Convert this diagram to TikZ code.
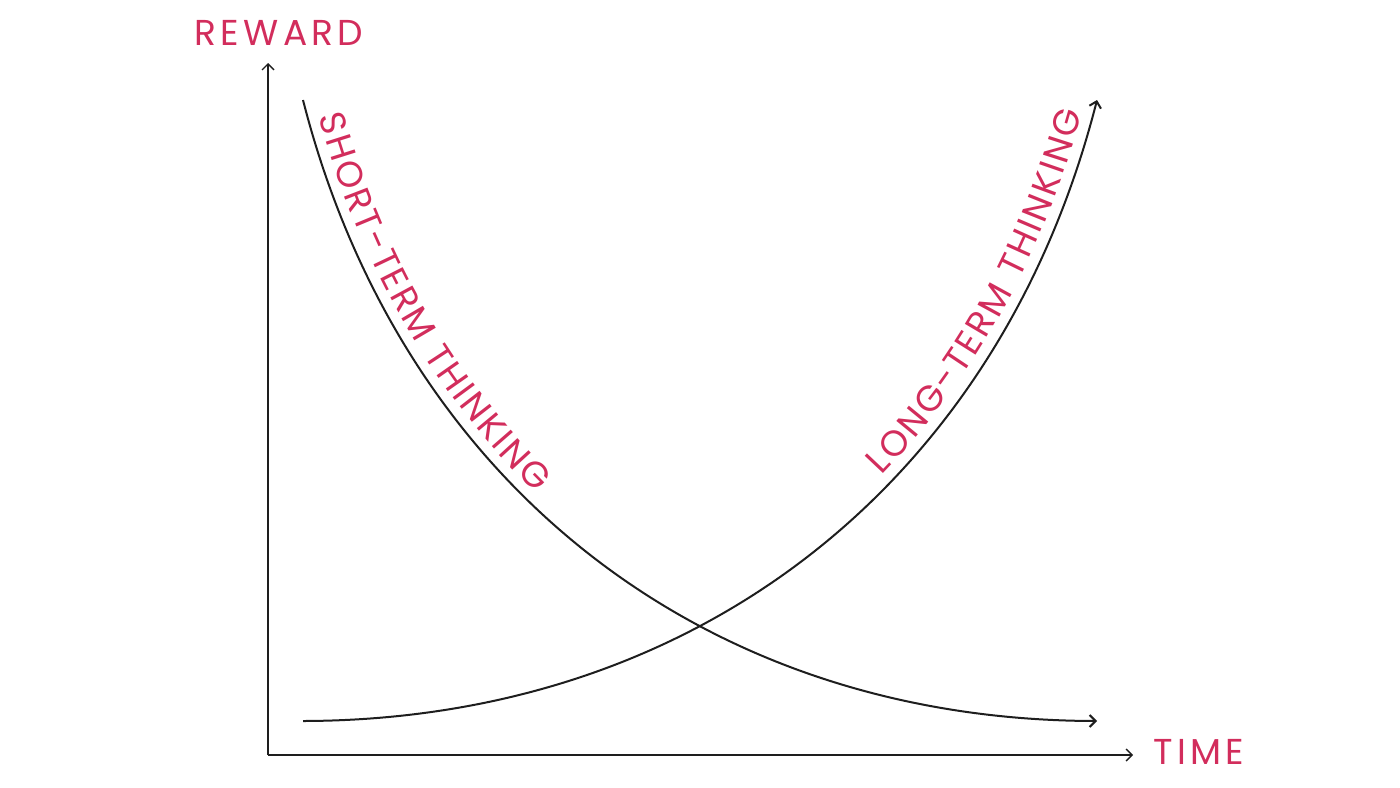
\documentclass[tikz,border=0pt]{standalone}
\usepackage{fontspec}
\setmainfont{Poppins}
\newfontfamily\axisfont[LetterSpace=12]{Poppins}
\newfontfamily\curvefont{Poppins}
\usetikzlibrary{arrows.meta,decorations.text}
\definecolor{inkred}{RGB}{210,45,92}
\definecolor{inkgrey}{RGB}{30,30,30}

\begin{document}
\begin{tikzpicture}[
  x=0.5pt, y=-0.5pt,
  tip/.style={-{Straight Barb[length=3pt,width=6pt]}},
  axis/.style={draw=inkgrey, line width=0.7pt, tip},
  trend/.style={draw=inkgrey, line width=1pt, tip},
  lbl/.style={text=inkred, font=\axisfont\fontsize{18}{20}\selectfont, inner sep=0pt}
]
\useasboundingbox (0,0) rectangle (1400,787);

% axes
\coordinate (o)  at (268,755);
\coordinate (yt) at (268,63);
\coordinate (xt) at (1133,755);
\draw[axis] (o) -- (yt);
\draw[axis] (o) -- (xt);
\node[lbl] (reward) at (279,33) {REWARD};
\node[lbl] (time) at (1199,752) {TIME};

% the two curves
\coordinate (s0) at (303,100);
\coordinate (s1) at (1097,721);
\coordinate (l0) at (303,721);
\coordinate (l1) at (1097,100);
\draw[trend] (s0) .. controls (400,480) and (700,720) .. (s1);
\draw[trend] (l0) .. controls (700,720) and (1000,480) .. (l1);

% labels along them
\path[decorate, decoration={text along path, raise=5.5pt,
      text align={left, left indent=9pt},
      text={|\curvefont\fontsize{18}{18}\selectfont\color{inkred}\kern1.3pt|SHORT-TERM THINKING}}]
  (s0) .. controls (400,480) and (700,720) .. (s1);
\path[decorate, decoration={text along path, raise=5.5pt,
      text align={right, right indent=8pt},
      text={|\curvefont\fontsize{18}{18}\selectfont\color{inkred}\kern1.3pt|LONG-TERM THINKING}}]
  (l0) .. controls (700,720) and (1000,480) .. (l1);
\end{tikzpicture}
\end{document}
